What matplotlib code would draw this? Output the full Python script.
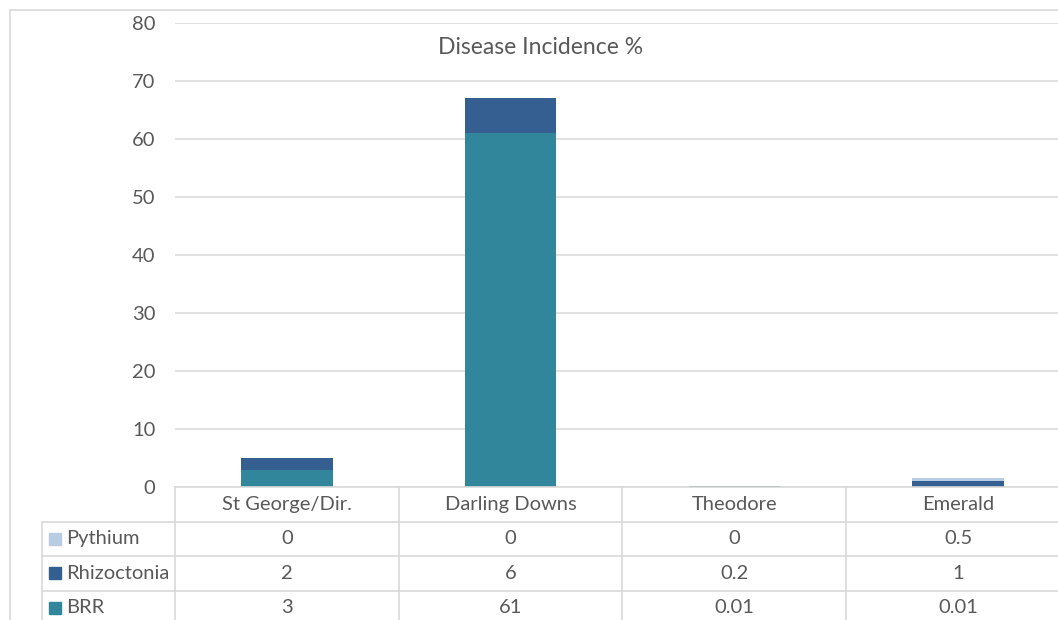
import matplotlib.pyplot as plt
from matplotlib.patches import Rectangle

regions = ['St George/Dir.', 'Darling Downs', 'Theodore', 'Emerald']
series = ['Pythium', 'Rhizoctonia', 'BRR']
pythium = [0, 0, 0, 0.5]
rhizoctonia = [2, 6, 0.2, 1]
brr = [3, 61, 0.01, 0.01]
values = {'Pythium': pythium, 'Rhizoctonia': rhizoctonia, 'BRR': brr}
labels = {'Pythium': ['0', '0', '0', '0.5'],
          'Rhizoctonia': ['2', '6', '0.2', '1'],
          'BRR': ['3', '61', '0.01', '0.01']}
colors = {'Pythium': '#B8CCE4', 'Rhizoctonia': '#355F91', 'BRR': '#31869B'}

plt.rcParams['font.family'] = ['Lato', 'DejaVu Sans']
text_col = '#595959'
grid_col = '#D9D9D9'

W, H = 1058, 620
fig = plt.figure(figsize=(W / 100, H / 100), dpi=100)

def px(x0, y0, x1, y1):
    # pixel box (top-left origin) -> figure fraction rect
    return [x0 / W, (H - y1) / H, (x1 - x0) / W, (y1 - y0) / H]

# outer chart frame
fig.add_artist(plt.Line2D([10 / W, 10 / W], [0, 1 - 10 / H], color=grid_col, lw=1.2))
fig.add_artist(plt.Line2D([10 / W, 1.0], [1 - 10 / H, 1 - 10 / H], color=grid_col, lw=1.2))

ax = fig.add_axes(px(175, 23, 1070, 487))
x = range(len(regions))
bottom = [0] * len(regions)
for name in ['BRR', 'Rhizoctonia', 'Pythium']:
    ax.bar(x, values[name], 0.41, bottom=bottom, color=colors[name], zorder=3)
    bottom = [b + v for b, v in zip(bottom, values[name])]

fs = 14.5
ax.set_xlim(-0.5, 3.5)
ax.set_ylim(0, 80)
ax.set_yticks(range(0, 81, 10))
ax.set_xticks([])
ax.tick_params(axis='y', length=0, pad=14, labelsize=fs, labelcolor=text_col)
ax.grid(axis='y', color=grid_col, lw=1.1, zorder=0)
for s in ax.spines.values():
    s.set_visible(False)

fig.text(541 / W, 1 - 48 / H, 'Disease Incidence %', ha='center', va='center',
         fontsize=16.5, color=text_col)

# data table under the bars
tx0 = -0.5 - (175 - 42) / 224
tab = fig.add_axes(px(42, 487, 1070, 625))
tab.set_xlim(tx0, 3.5)
tab.set_ylim(4, 0)
tab.axis('off')

lk = dict(color=grid_col, lw=1.2, clip_on=False)
tab.plot([-0.5, 3.5], [0, 0], **lk)
for r in (1, 2, 3):
    tab.plot([tx0, 3.5], [r, r], **lk)
tab.plot([tx0, tx0], [1, 4], **lk)
for c in (-0.5, 0.5, 1.5, 2.5):
    tab.plot([c, c], [0, 4], **lk)

for i, reg in enumerate(regions):
    tab.text(i, 0.5, reg, ha='center', va='center', fontsize=fs, color=text_col)
for r, name in enumerate(series, start=1):
    kw, kh = 12 / 224, 12 / 34.5
    tab.add_patch(Rectangle((tx0 + 7 / 224, r + 0.5 - kh / 2), kw, kh,
                            color=colors[name], clip_on=False))
    tab.text(tx0 + 24 / 224, r + 0.5, name, ha='left', va='center',
             fontsize=fs, color=text_col)
    for i, lab in enumerate(labels[name]):
        tab.text(i, r + 0.5, lab, ha='center', va='center', fontsize=fs, color=text_col)

fig.savefig('out.png', dpi=100)
